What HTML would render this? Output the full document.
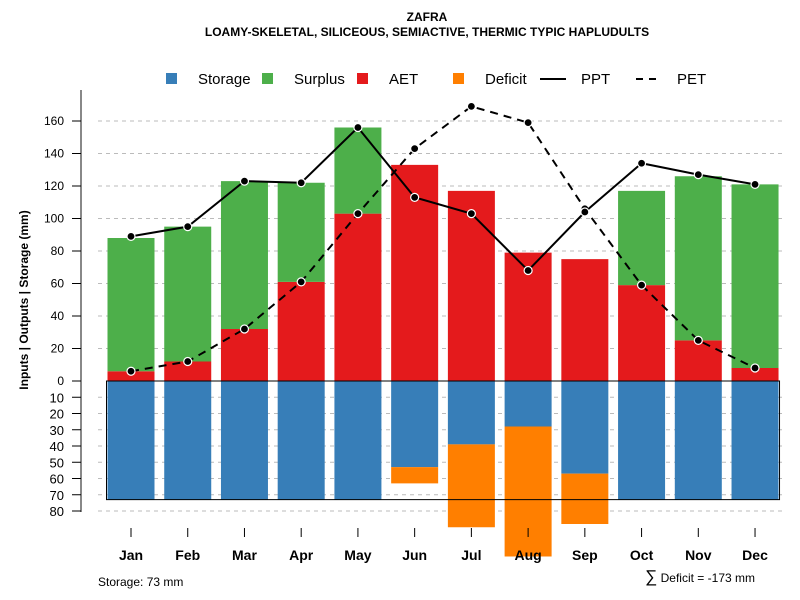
<!DOCTYPE html>
<html><head><meta charset="utf-8"><style>
body{margin:0;background:#fff;}
svg{display:block;font-family:"Liberation Sans",sans-serif;}
</style></head><body>
<svg id="c" width="800" height="600" xmlns="http://www.w3.org/2000/svg">
<text x="427" y="21" text-anchor="middle" font-size="12" font-weight="bold">ZAFRA</text>
<text x="427" y="36" text-anchor="middle" font-size="12" font-weight="bold">LOAMY-SKELETAL, SILICEOUS, SEMIACTIVE, THERMIC TYPIC HAPLUDULTS</text>
<g font-size="15">
<rect x="166" y="73" width="11" height="11" fill="#377eb8"/>
<text x="198" y="84">Storage</text>
<rect x="262" y="73" width="11" height="11" fill="#4daf4a"/>
<text x="294" y="84">Surplus</text>
<rect x="357" y="73" width="11" height="11" fill="#e41a1c"/>
<text x="389" y="84">AET</text>
<rect x="453" y="73" width="11" height="11" fill="#ff7f00"/>
<text x="485" y="84">Deficit</text>
<line x1="540" y1="79" x2="566" y2="79" stroke="#000" stroke-width="2"/>
<text x="581" y="84">PPT</text>
<line x1="636" y1="79" x2="662" y2="79" stroke="#000" stroke-width="2" stroke-dasharray="7,6"/>
<text x="677" y="84">PET</text>
</g>
<text transform="translate(28,300) rotate(-90)" text-anchor="middle" font-size="12" font-weight="bold">Inputs | Outputs | Storage    (mm)</text>
<text x="98" y="586" font-size="12">Storage: 73 mm</text>
<text x="755" y="582" text-anchor="end" font-size="12"><tspan font-size="17">∑</tspan> Deficit = -173 mm</text>
<g id="plot"></g>
</svg>
<script>
const months=["Jan","Feb","Mar","Apr","May","Jun","Jul","Aug","Sep","Oct","Nov","Dec"];
const ppt=[89,95,123,122,156,113,103,68,104,134,127,121];
const pet=[6,12,32,61,103,143,169,159,106,59,25,8];
const aet=[6,12,32,61,103,133,117,79,75,59,25,8];
const surplus=[82,83,91,61,53,0,0,0,0,58,101,113];
const storage=[73,73,73,73,73,53,39,28,57,73,73,73];
const deficit=[0,0,0,0,0,10,51,80,31,0,0,0];
const posTicks=[0,20,40,60,80,100,120,140,160];
const negTicks=[10,20,30,40,50,60,70,80];
const storageMax=73;

const NS="http://www.w3.org/2000/svg";
const g=document.getElementById('plot');
const k=1.625;
const y=v=>381-v*k;
const yn=v=>381+v*k;
const x=i=>131+i*56.73;
const bw=47;
function el(t,a){const e=document.createElementNS(NS,t);for(const n in a)e.setAttribute(n,a[n]);g.appendChild(e);return e;}

posTicks.forEach(v=>{if(v>0){const l=el('line',{x1:98,x2:785,y1:y(v),y2:y(v),stroke:'#bbb','stroke-dasharray':'4,4'});

}});
negTicks.forEach(v=>{const l=el('line',{x1:98,x2:785,y1:yn(v),y2:yn(v),stroke:'#bbb','stroke-dasharray':'4,4'});

});

months.forEach((m,i)=>{
  const cx=x(i);
  const a=el('rect',{x:cx-bw/2,y:y(aet[i]),width:bw,height:aet[i]*k,fill:'#e41a1c'});
  
  
  if(surplus[i]>0){const s=el('rect',{x:cx-bw/2,y:y(aet[i]+surplus[i]),width:bw,height:surplus[i]*k,fill:'#4daf4a'});
  
  }
  const st=el('rect',{x:cx-bw/2,y:381,width:bw,height:storage[i]*k,fill:'#377eb8'});
  
  
  if(deficit[i]>0){const d=el('rect',{x:cx-bw/2,y:yn(storage[i]),width:bw,height:deficit[i]*k,fill:'#ff7f00'});
  
  }
});
months.forEach((m,i)=>{
  const cx=x(i);
  const t=el('line',{x1:cx,x2:cx,y1:528,y2:537,stroke:'#000'});
  
  
  const tx=el('text',{x:cx,y:560,'text-anchor':'middle','font-size':14,'font-weight':'bold'});tx.textContent=m;
  
  
});
const box=el('rect',{x:x(0)-bw/2-1,y:381,width:x(11)-x(0)+bw+2,height:storageMax*k,fill:'none',stroke:'#000','stroke-width':1});



function series(arr,name,dash){
  const pts=arr.map((v,i)=>x(i)+','+y(v)).join(' ');
  const p=el('polyline',{points:pts,fill:'none',stroke:'#000','stroke-width':2,'stroke-dasharray':dash||'none'});
  
  
  arr.forEach((v,i)=>{const c=el('circle',{cx:x(i),cy:y(v),r:4,fill:'#000',stroke:'#fff','stroke-width':1.2});
  
  });
}
series(pet,'pet','8,6');
series(ppt,'ppt');

const ax=el('line',{x1:81,x2:81,y1:90,y2:512,stroke:'#888','stroke-width':2});


posTicks.forEach(v=>{const t=el('line',{x1:72,x2:81,y1:y(v),y2:y(v),stroke:'#000'});


const tx=el('text',{x:64,y:y(v)+4,'text-anchor':'end','font-size':12});tx.textContent=v;

});
negTicks.forEach(v=>{const t=el('line',{x1:72,x2:81,y1:yn(v),y2:yn(v),stroke:'#000'});


const tx=el('text',{x:64,y:yn(v)+5,'text-anchor':'end','font-size':13});tx.textContent=v;

});
</script>
</body></html>
